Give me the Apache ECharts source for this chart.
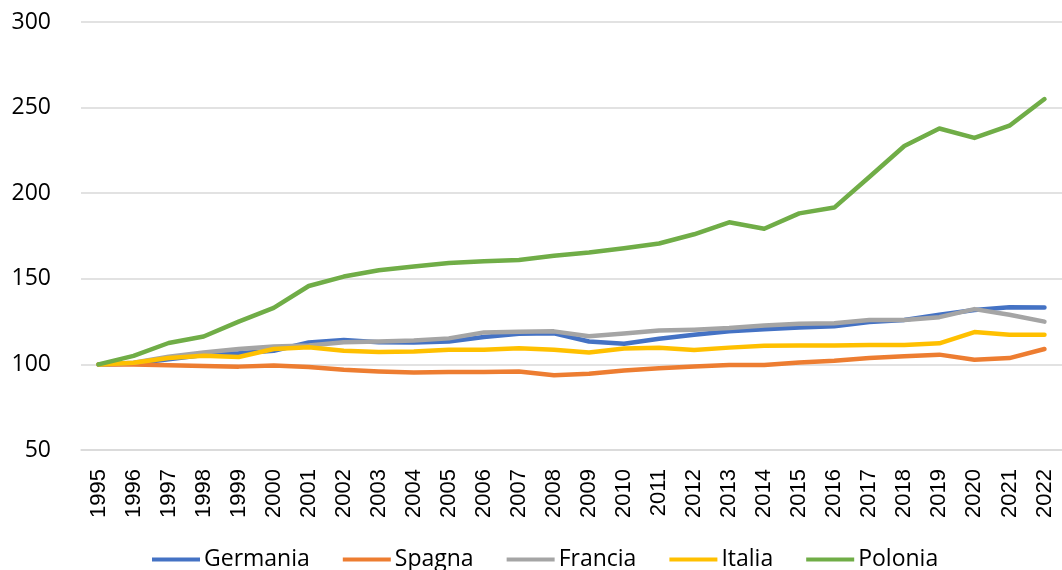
<!DOCTYPE html>
<html>
<head>
<meta charset="utf-8">
<script src="https://cdn.jsdelivr.net/npm/echarts@6/dist/echarts.min.js"></script>
<style>
html,body{margin:0;padding:0;background:#fff;}
#chart{width:1062px;height:570px;}
</style>
</head>
<body>
<div id="chart"></div>
<script>
var years = ['1995','1996','1997','1998','1999','2000','2001','2002','2003','2004','2005','2006','2007','2008','2009','2010','2011','2012','2013','2014','2015','2016','2017','2018','2019','2020','2021','2022'];
var germania = [100,100.5,103,105.5,106.5,108,112.8,114.2,113,112.8,113.4,116,117.9,118.2,113.4,112.1,115,117.3,119.3,120.6,121.5,122.3,124.8,126,129,131.8,133.4,133.3];
var spagna = [100,100,99.5,99,98.7,99.4,98.5,96.9,95.9,95.3,95.5,95.5,95.9,93.6,94.6,96.5,97.7,98.8,99.6,99.7,101.1,102.1,103.7,104.7,105.7,102.7,103.7,109];
var francia = [100,101,104.5,107,109,110.5,111,113,113.4,114,115.2,118.7,119.1,119.3,116.5,118,119.8,120.3,121.2,122.7,123.7,124,126,126,127.6,132.3,129,125];
var italia = [100,101,103.7,105,104.3,109,110,108,107.2,107.6,108.6,108.6,109.5,108.6,107,109.3,109.7,108.4,109.8,110.9,111.1,111.1,111.3,111.3,112.3,118.9,117.3,117.3];
var polonia = [100,105,112.5,116.3,125,133,145.8,151.3,155,157.2,159.2,160.3,161,163.4,165.3,167.8,170.6,176,183,179.2,188.2,191.6,209.5,227.6,237.8,232.3,239.4,255];
var names = ['Germania','Spagna','Francia','Italia','Polonia'];
var colors = ['#4472C4','#ED7D31','#A5A5A5','#FFC000','#70AD47'];
var seriesData = [germania, spagna, francia, italia, polonia];

var chart = echarts.init(document.getElementById('chart'));
chart.setOption({
  animation: false,
  color: colors,
  grid: {left: 81, top: 22, width: 985, height: 428, containLabel: false},
  legend: {
    data: names,
    left: 147, top: 543,
    icon: 'rect', itemWidth: 48, itemHeight: 4, itemGap: 33,
    textStyle: {fontFamily: 'Open Sans', fontSize: 23, color: '#000', padding: [0,0,0,-1]}
  },
  xAxis: {
    type: 'category', data: years, boundaryGap: true,
    axisLine: {show: true, lineStyle: {color: '#D9D9D9', width: 1.5}},
    axisTick: {show: false},
    axisLabel: {rotate: 90, margin: 19, fontFamily: 'Liberation Sans', fontSize: 22, color: '#000', interval: 0}
  },
  yAxis: {
    type: 'value', min: 50, max: 300, interval: 50,
    axisLine: {show: false}, axisTick: {show: false},
    splitLine: {lineStyle: {color: '#D9D9D9', width: 1.5}},
    axisLabel: {margin: 30, fontFamily: 'Open Sans', fontSize: 23, color: '#000'}
  },
  series: names.map(function(n, i){
    return {
      name: n, type: 'line', data: seriesData[i], symbol: 'none',
      lineStyle: {width: 4.5, color: colors[i], cap: 'round', join: 'round'},
      itemStyle: {color: colors[i]}
    };
  })
});
</script>
</body>
</html>
